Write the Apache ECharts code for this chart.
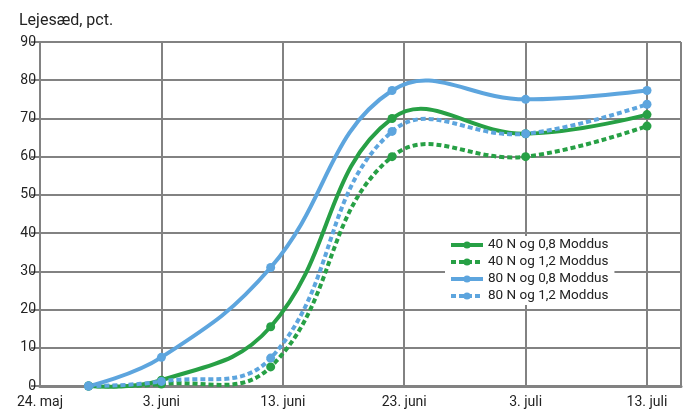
<!DOCTYPE html>
<html><head><meta charset="utf-8">
<script src="https://cdn.jsdelivr.net/npm/echarts@6/dist/echarts.min.js"></script>
<style>html,body{margin:0;padding:0;background:#fff}#c{width:684px;height:412px}</style>
</head><body><div id="c"></div>
<script>
const startDate = '2019-05-24';
const obsDates = ['2019-05-28', '2019-06-03', '2019-06-12', '2019-06-22', '2019-07-03', '2019-07-13'];
const tickLabels = ['24. maj', '3. juni', '13. juni', '23. juni', '3. juli', '13. juli'];
const seriesNames = ['40 N og 0,8 Moddus', '40 N og 1,2 Moddus', '80 N og 0,8 Moddus', '80 N og 1,2 Moddus'];
const n40_08 = [0, 1.5, 15.5, 70, 66, 71];
const n40_12 = [0, 0.5, 5, 60, 60, 68];
const n80_08 = [0, 7.5, 31, 77.3, 75, 77.3];
const n80_12 = [0, 1.2, 7.3, 66.6, 66, 73.7];

const GREEN = '#27a045', BLUE = '#5da5de', GRID = '#828282';
const day0 = Date.parse(startDate);
const xs = obsDates.map(d => (Date.parse(d) - day0) / 86400000);
function pts(vals){ return vals.map((v,i)=>[xs[i], v]); }
const defs = [
  [seriesNames[0], n40_08, GREEN, false],
  [seriesNames[1], n40_12, GREEN, true],
  [seriesNames[2], n80_08, BLUE, false],
  [seriesNames[3], n80_12, BLUE, true]
];
const dashOf = d => d ? [5,3] : 'solid';
const series = [];
// markers (and legend source)
defs.forEach(([name, vals, color, dashed]) => {
  series.push({
    name, type:'line', data: pts(vals), z: 5,
    symbol:'circle', symbolSize: 9,
    itemStyle:{color},
    lineStyle:{color, width:4, type: dashOf(dashed), opacity:0}
  });
});
// smooth curves through the same points, positioned by the axes
defs.forEach(([name, vals, color, dashed]) => {
  series.push({
    name: name + ' kurve', type:'custom', z: 3, silent:true,
    data: [0],
    renderItem: (params, api) => ({
      type:'polyline',
      shape:{ points: pts(vals).map(p => api.coord(p)), smooth: 0.42 },
      style:{ stroke: color, lineWidth: 4, fill: null, lineDash: dashed ? [5,3] : null }
    })
  });
});
const chart = echarts.init(document.getElementById('c'), null, {renderer:'canvas'});
chart.setOption({
  animation:false,
  title:{text:'Lejesæd, pct.', left:14, top:8, textStyle:{fontFamily:'Roboto', fontSize:16, fontWeight:'normal', color:'#222'}},
  grid:{left:40, right:-2, top:42, bottom:26},
  legend:{
    orient:'vertical', left:445, top:236, backgroundColor:'#fff', padding:[2,6,2,4],
    itemWidth:32, itemHeight:9, itemGap:3,
    textStyle:{fontFamily:'Roboto', fontSize:13.5, color:'#222'},
    data: defs.map(([name, vals, color, dashed]) => ({
      name, lineStyle:{color, width:4, type: dashOf(dashed), opacity:1}
    }))
  },
  xAxis:{
    type:'value', min:0, max:52.8, interval:10,
    axisLine:{show:true, lineStyle:{color:GRID, width:3}},
    axisTick:{show:false},
    splitLine:{show:true, lineStyle:{color:GRID, width:2}},
    axisLabel:{fontFamily:'Roboto', fontSize:14, color:'#222', margin:9,
      formatter: v => { const i = v/10; return Number.isInteger(i) && tickLabels[i] ? tickLabels[i] : ''; }}
  },
  yAxis:{
    type:'value', min:0, max:90, interval:10,
    axisLine:{show:true, lineStyle:{color:GRID, width:2}},
    axisTick:{show:true, length:9, lineStyle:{color:GRID, width:2}},
    splitLine:{show:true, lineStyle:{color:GRID, width:2}},
    axisLabel:{fontFamily:'Roboto', fontSize:14, color:'#222', margin:4}
  },
  series
});
</script></body></html>
